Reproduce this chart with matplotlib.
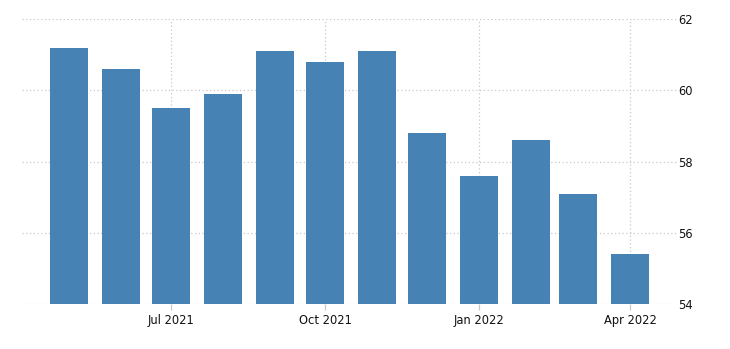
import matplotlib
matplotlib.use("Agg")
import matplotlib.pyplot as plt
import matplotlib.dates as mdates
import numpy as np
import datetime as dt

months = ["2021-05", "2021-06", "2021-07", "2021-08", "2021-09", "2021-10",
          "2021-11", "2021-12", "2022-01", "2022-02", "2022-03", "2022-04"]
values = [61.2, 60.6, 59.5, 59.9, 61.1, 60.8, 61.1, 58.8, 57.6, 58.6, 57.1, 55.4]
tick_months = ["2021-07", "2021-10", "2022-01", "2022-04"]
tick_labels = ["Jul 2021", "Oct 2021", "Jan 2022", "Apr 2022"]
y_ticks = [54, 56, 58, 60, 62]

def to_date(s):
    y, m = s.split("-")
    return dt.datetime(int(y), int(m), 1)

dates = [to_date(m) for m in months]
xnum = mdates.date2num(dates)
tnum = mdates.date2num([to_date(m) for m in tick_months])

W, H = 730, 349
fig = plt.figure(figsize=(W / 100, H / 100), dpi=100)
left, right, top, bottom = 22, 677, 19.3, 304
ax = fig.add_axes([left / W, 1 - bottom / H, (right - left) / W, (bottom - top) / H])

ax.bar(xnum, [v - 54 for v in values], bottom=54, width=22.7, color="#4682B4", zorder=2)

ax.set_xlim(tnum[0] - 61 - 28, tnum[-1] + 28)
ax.set_ylim(54, 62)

ax.set_yticks(y_ticks)
ax.set_yticklabels([str(t) for t in y_ticks])
ax.yaxis.tick_right()
ax.set_xticks(tnum)
ax.set_xticklabels(tick_labels)

for s in ax.spines.values():
    s.set_visible(False)

ax.grid(True, axis="both", linestyle=(0, (1, 2)), color="#c8c8c8", linewidth=0.9, zorder=0)
ax.tick_params(axis="y", length=0, pad=1, labelsize=8.3, labelcolor="#111111")
ax.tick_params(axis="x", length=4, color="#c8c8c8", width=0.9, pad=3, labelsize=8.3, labelcolor="#111111")

fig.savefig("out.png", dpi=100)
